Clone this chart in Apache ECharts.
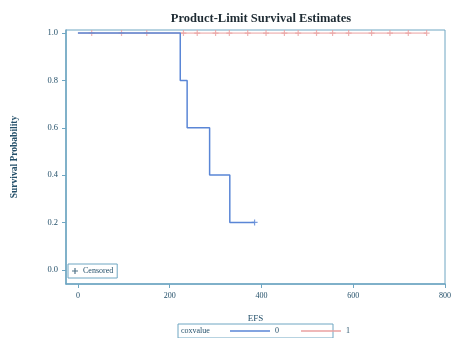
<!DOCTYPE html>
<html>
<head>
<meta charset="utf-8">
<script src="https://cdn.jsdelivr.net/npm/echarts@6/dist/echarts.min.js"></script>
<style>
  html, body { margin: 0; padding: 0; background: #fff; }
  #main { width: 454px; height: 338px; }
</style>
</head>
<body>
<div id="main"></div>
<script>
// 生存曲线数据 (Kaplan-Meier)
var xTicks = [0, 200, 400, 600, 800];
var yTicks = [0, 0.2, 0.4, 0.6, 0.8, 1.0];
var group0Times = [0, 223, 238, 287, 331, 385];
var group0Surv = [1.0, 0.8, 0.6, 0.4, 0.2, 0.2];
var group0Censor = [385];
var group1Times = [0, 760];
var group1Surv = [1.0, 1.0];
var group1Censor = [30, 95, 150, 230, 260, 300, 330, 370, 410, 450, 480, 520, 555, 590, 640, 680, 720, 760];

var axisColor = '#6fa6c2';
var textColor = '#24506a';
var blue = '#5a86d6';
var red = '#eaa0a0';
var plusPath = 'path://M4,0h2v4h4v2h-4v4h-2v-4h-4v-2h4z';

function pairs(xs, ys) {
    return xs.map(function (x, i) { return [x, ys[i]]; });
}
function censorPts(xs, surv) {
    return xs.map(function (x) { return [x, surv]; });
}

var chart = echarts.init(document.getElementById('main'));
var font = 'Liberation Serif, DejaVu Serif, serif';

chart.setOption({
    animation: false,
    textStyle: { fontFamily: font },
    title: {
        text: 'Product-Limit Survival Estimates',
        left: 256, textAlign: 'center', top: 7,
        textStyle: { fontFamily: font, fontSize: 12.5, fontWeight: 'bold', color: '#1e2b33' }
    },
    grid: {
        left: 66, right: 2, top: 30, bottom: 54,
        show: true, borderColor: axisColor, borderWidth: 1
    },
    xAxis: {
        type: 'value', min: -26, max: 800,
        name: 'EFS', nameLocation: 'middle', nameGap: 30,
        nameTextStyle: { fontFamily: font, fontSize: 9, color: textColor },
        axisLine: { onZero: false, lineStyle: { color: axisColor, width: 1.5 } },
        axisTick: { show: true, length: 4, lineStyle: { color: axisColor }, customValues: xTicks },
        axisLabel: { fontFamily: font, fontSize: 8, color: textColor, margin: 8, customValues: xTicks },
        splitLine: { show: false }
    },
    yAxis: {
        type: 'value', min: -0.06, max: 1.013,
        name: 'Survival Probability', nameLocation: 'middle', nameGap: 46,
        nameTextStyle: { fontFamily: font, fontSize: 9.5, fontWeight: 'bold', color: textColor },
        axisLine: { show: true, onZero: false, lineStyle: { color: axisColor, width: 1.5 } },
        axisTick: { show: true, length: 4, lineStyle: { color: axisColor }, customValues: yTicks },
        axisLabel: {
            fontFamily: font, fontSize: 8.5, color: textColor, margin: 8, customValues: yTicks,
            formatter: function (v) { return v.toFixed(1); }
        },
        splitLine: { show: false }
    },
    legend: [{
        data: [
            { name: '0', icon: 'path://M0,4h40v1.5h-40z', itemStyle: { color: blue } },
            { name: '1', icon: 'path://M0,4h40v1.5h-40z', itemStyle: { color: red } }
        ],
        left: 230, top: 327, itemWidth: 40, itemHeight: 8, itemGap: 22,
        padding: 0,
        textStyle: { fontFamily: font, fontSize: 8, color: textColor }
    }, {
        data: [{ name: 'Censored', icon: plusPath, itemStyle: { color: textColor } }],
        left: 68, top: 264, itemWidth: 6, itemHeight: 6, itemGap: 4,
        padding: [3, 4], borderColor: axisColor, borderWidth: 1,
        textStyle: { fontFamily: font, fontSize: 8, color: textColor }
    }],
    graphic: [{
        type: 'rect', shape: { x: 178, y: 324, width: 155, height: 14 },
        style: { fill: 'none', stroke: axisColor, lineWidth: 1 }
    }, {
        type: 'text', left: 181, top: 327,
        style: { text: 'coxvalue', font: '8px ' + font, fill: textColor }
    }],
    series: [{
        name: '1', type: 'line', data: pairs(group1Times, group1Surv),
        symbol: 'none', lineStyle: { color: red, width: 1 }, z: 2
    }, {
        name: '1c', type: 'scatter', data: censorPts(group1Censor, 1.0),
        symbol: plusPath, symbolSize: 6, itemStyle: { color: red }, z: 2
    }, {
        name: '0', type: 'line', step: 'end', data: pairs(group0Times, group0Surv),
        symbol: 'none', lineStyle: { color: blue, width: 1.5 }, z: 3
    }, {
        name: '0c', type: 'scatter', data: censorPts(group0Censor, 0.2),
        symbol: plusPath, symbolSize: 6, itemStyle: { color: blue }, z: 3
    }, {
        name: 'Censored', type: 'scatter', data: [],
        symbol: plusPath, itemStyle: { color: textColor }
    }]
});
</script>
</body>
</html>
